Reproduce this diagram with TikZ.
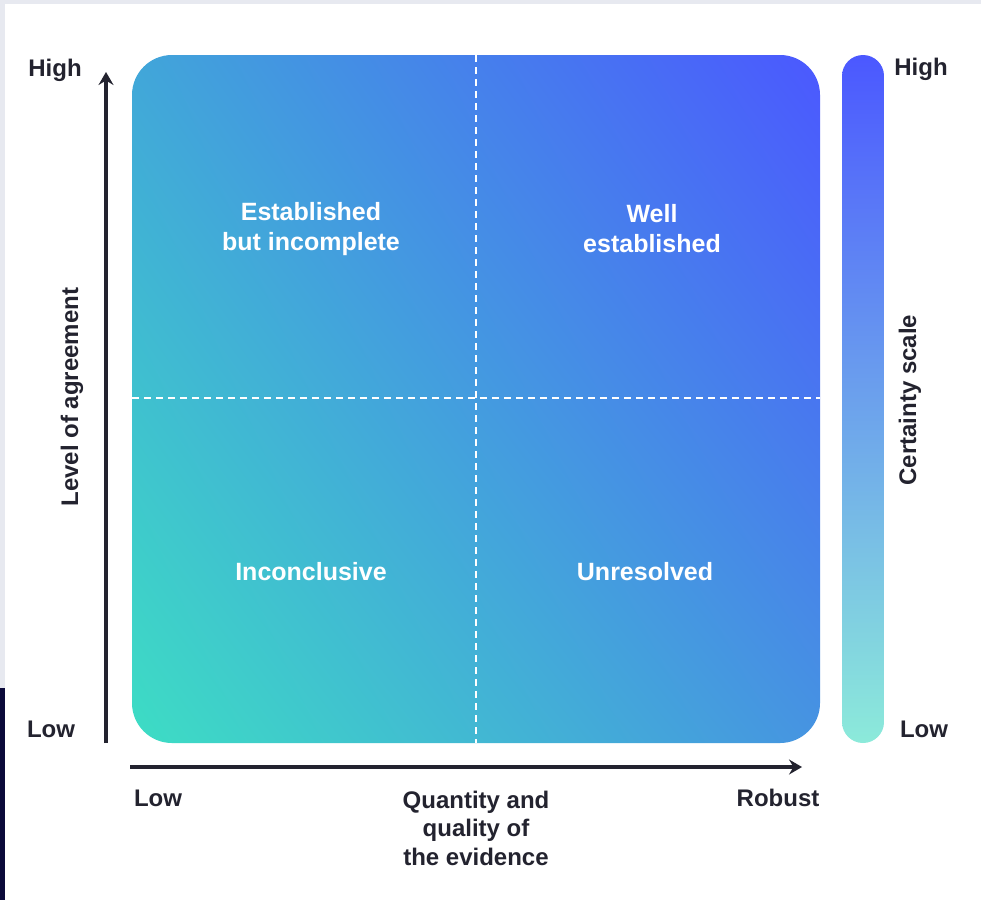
\documentclass[tikz,border=0pt]{standalone}
\usepackage{fontspec}
\setmainfont{Liberation Sans}
\usetikzlibrary{arrows.meta,shadings}
\definecolor{txt}{HTML}{23232F}
\definecolor{cTR}{HTML}{4B58FF}
\definecolor{cBL}{HTML}{3DDDC4}
\definecolor{cTL}{HTML}{41A6D9}
\definecolor{cBR}{HTML}{4694E1}
\definecolor{barTop}{HTML}{4B58FF}
\definecolor{barBot}{HTML}{8CEADA}
\definecolor{frameGray}{HTML}{E7E9F0}
\definecolor{frameNavy}{HTML}{0B0A3A}
\begin{document}
\begin{tikzpicture}[x=1pt,y=-1pt,
  lbl/.style={font=\fontsize{24}{28.5}\selectfont\bfseries, text=txt, inner sep=0pt, align=center},
  quad/.style={font=\fontsize{25}{30}\selectfont\bfseries, text=white, inner sep=0pt, align=center},
  axisline/.style={line width=3.2pt, draw=txt, -{Stealth[length=13pt,width=15pt,inset=4.5pt]}},
  divider/.style={white, line width=1.8pt, dash pattern=on 7pt off 5pt}]
\useasboundingbox (0,0) rectangle (981,900);
\fill[white] (0,0) rectangle (981,900);
% frame strips
\fill[frameGray] (0,0) rectangle (981,3.5);
\fill[frameGray] (0,0) rectangle (5,688);
\fill[frameNavy] (0,688) rectangle (5,900);
% main gradient box
\shade[rounded corners=40pt, upper right=cTR, lower left=cBL, upper left=cTL, lower right=cBR]
  (132,55) rectangle (820,743);
\coordinate (vt) at (476,55);
\coordinate (vb) at (476,743);
\coordinate (hl) at (132,398);
\coordinate (hr) at (820,398);
\draw[divider] (vt) -- (vb);
\draw[divider] (hl) -- (hr);
% colour bar
\shade[rounded corners=21pt, top color=barTop, bottom color=barBot] (842,55) rectangle (884,743);
% axes
\coordinate (ys) at (106,743);
\coordinate (ye) at (106,72);
\coordinate (xs) at (130,767);
\coordinate (xe) at (802,767);
\draw[axisline] (ys) -- (ye);
\draw[axisline] (xs) -- (xe);
% labels
\node[lbl] (yhigh) at (55,70) {High};
\node[lbl] (ylow) at (51,729) {Low};
\node[lbl, rotate=90] (ylab) at (72,397) {Level of agreement};
\node[lbl] (xlow) at (158,798) {Low};
\node[lbl] (xlab) at (476,828) {Quantity and\\quality of\\the evidence};
\node[lbl] (xrob) at (778,798) {Robust};
\node[lbl] (chigh) at (921,69) {High};
\node[lbl] (clow) at (924,729) {Low};
\node[lbl, rotate=90] (clab) at (910,400) {Certainty scale};
% quadrants
\node[quad] (q1) at (311,229) {Established\\but incomplete};
\node[quad] (q2) at (652,229) {Well\\established};
\node[quad] (q3) at (311,572) {Inconclusive};
\node[quad] (q4) at (645,572) {Unresolved};
\end{tikzpicture}
\end{document}
